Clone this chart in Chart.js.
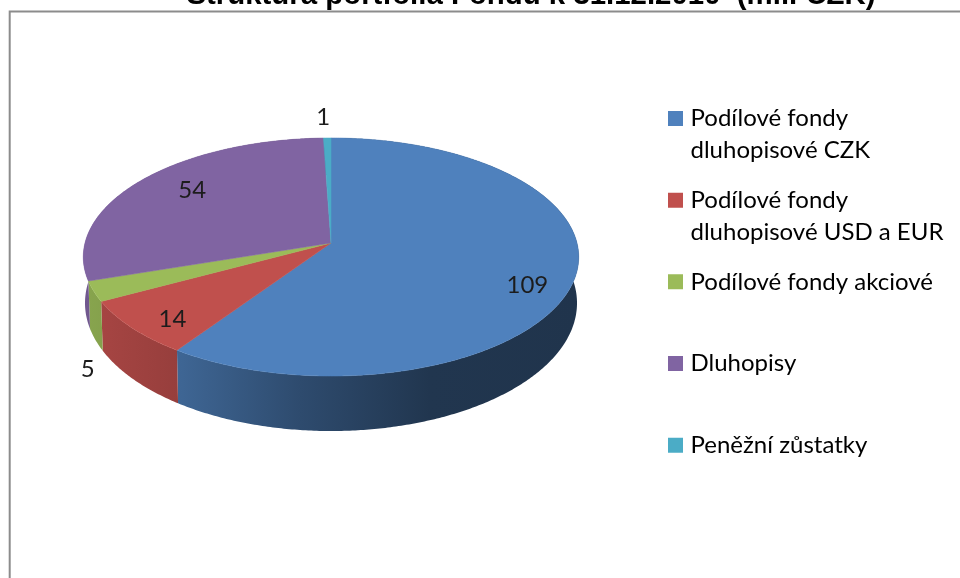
<!DOCTYPE html>
<html><head><meta charset="utf-8">
<style>html,body{margin:0;padding:0;background:#fff;overflow:hidden}canvas{display:block}</style>
<script src="https://cdn.jsdelivr.net/npm/chart.js@4"></script>
</head><body><canvas id="c" width="960" height="578"></canvas>
<script>
const titleText = 'Struktura portfolia Fondu k 31.12.2010  (mil. CZK)';
const categories = [
  ['Podílové fondy','dluhopisové CZK'],
  ['Podílové fondy','dluhopisové USD a EUR'],
  ['Podílové fondy akciové',''],
  ['Dluhopisy',''],
  ['Peněžní zůstatky','']
];
const values = [109, 14, 5, 54, 1];
const colors = ['#4F81BD','#C0504D','#9BBB59','#8064A2','#4BACC6'];
// label placement: radial factor, then nudge
const labelPlace = [[.82,-2,13],[.8,-2,9],[1,-6,78],[.7,-4,-8],[1,-4,-21]];

const TOP = {cx:331, cy:243, A:246, B:117.4, k:.1176};
const BOT = {cx:331, cy:288, A:244.3, B:126.2, k:.1176};
const project = (p, a, r=1) => {
  const X = Math.cos(a)*r, Y = Math.sin(a)*r, d = 1 - p.k*Y;
  return [p.cx + p.A*X/d, p.cy + p.B*Y/d];
};
const arcPts = (p, a0, a1) => {
  const n = Math.max(2, Math.ceil(Math.abs(a1-a0)/0.01)), pts = [];
  for (let i=0;i<=n;i++) pts.push(project(p, a0+(a1-a0)*i/n));
  return pts;
};
const shadeStops = [[84,.88],[183,.78],[300,.58],[430,.42],[579,.40]];
function rgb(h){return [1,3,5].map(i=>parseInt(h.substr(i,2),16));}
function wallGradient(ctx,color){
  const g = ctx.createLinearGradient(84,0,579,0), c = rgb(color);
  shadeStops.forEach(([x,f])=>g.addColorStop((x-84)/495,`rgb(${c.map(v=>Math.round(v*f)).join(',')})`));
  return g;
}
const pie3d = {
  id:'pie3d',
  beforeDraw(chart){
    const ctx = chart.ctx;
    ctx.save();
    ctx.fillStyle='#fff'; ctx.fillRect(0,0,960,578);
    ctx.strokeStyle='#8c8c8c'; ctx.lineWidth=2;
    ctx.beginPath(); ctx.moveTo(9.7,578); ctx.lineTo(9.7,11.5); ctx.lineTo(960,11.5); ctx.stroke();
    ctx.restore();
    const t = chart.titleBlock;
    t.top=-22; t.bottom=10; t.left=102; t.right=960;
    const l = chart.legend;
    l.left=654.8; l.right=960; l.top=88.8; l.bottom=700;
  },
  beforeDatasetDraw(chart,args){
    const ctx = chart.ctx, els = args.meta.data;
    ctx.save();
    els.forEach((el,i)=>{
      const top = arcPts(TOP, el.startAngle, el.endAngle);
      const bot = arcPts(BOT, el.startAngle, el.endAngle).reverse();
      ctx.beginPath();
      top.concat(bot).forEach((p,j)=> j?ctx.lineTo(p[0],p[1]):ctx.moveTo(p[0],p[1]));
      ctx.closePath();
      ctx.fillStyle = wallGradient(ctx, colors[i]);
      ctx.fill();
    });
    els.forEach((el,i)=>{
      const top = arcPts(TOP, el.startAngle, el.endAngle);
      ctx.beginPath();
      ctx.moveTo(TOP.cx,TOP.cy);
      top.forEach(p=>ctx.lineTo(p[0],p[1]));
      ctx.closePath();
      ctx.fillStyle = colors[i];
      ctx.strokeStyle = colors[i];
      ctx.lineWidth=.5;
      ctx.fill(); ctx.stroke();
    });
    ctx.restore();
    return false;
  },
  afterDatasetsDraw(chart){
    const ctx = chart.ctx, els = chart.getDatasetMeta(0).data;
    ctx.save();
    ctx.font = '24px Lato';
    ctx.fillStyle = '#1c1c1c';
    ctx.textAlign='center'; ctx.textBaseline='middle';
    els.forEach((el,i)=>{
      const [r,dx,dy] = labelPlace[i];
      const p = project(TOP,(el.startAngle+el.endAngle)/2,r);
      ctx.fillText(String(values[i]),p[0]+dx,p[1]+dy);
    });
    ctx.restore();
  }
};
new Chart(document.getElementById('c'),{
  type:'pie',
  data:{labels:categories,datasets:[{data:values,backgroundColor:colors,borderWidth:0}]},
  options:{
    responsive:false,animation:false,
    events:[],
    layout:{padding:0},
    plugins:{
      tooltip:{enabled:false},
      title:{display:true,text:titleText,color:'#000',padding:0,
        font:{family:'Liberation Sans',size:29.4,weight:'bold',lineHeight:1.2}},
      legend:{display:true,position:'right',align:'start',
        labels:{color:'#262626',boxWidth:6,boxHeight:6,padding:17.7,
          font:{family:'Lato',size:24,lineHeight:1.333},
          generateLabels(chart){
            return categories.map((text,i)=>({text,fillStyle:colors[i],strokeStyle:colors[i],lineWidth:9,index:i}));
          }}}
    }
  },
  plugins:[pie3d]
});
</script></body></html>
